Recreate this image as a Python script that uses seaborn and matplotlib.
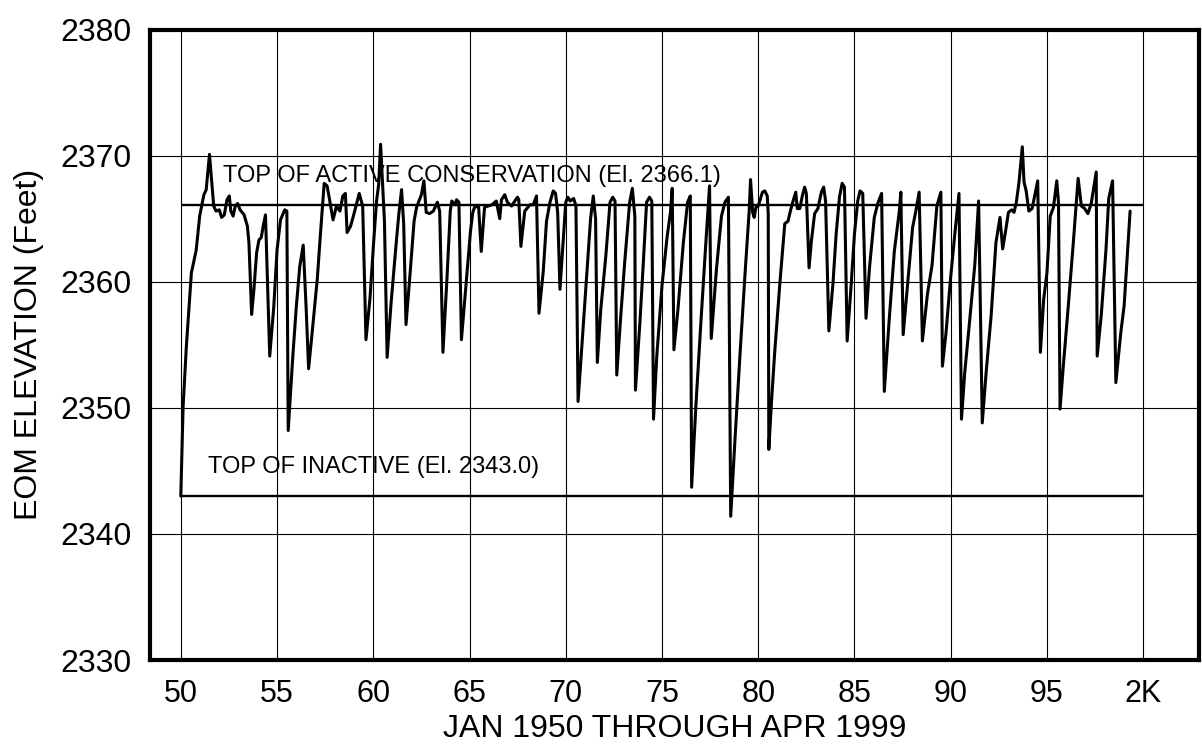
import matplotlib
matplotlib.use("Agg")
import matplotlib.pyplot as plt
import seaborn as sns
import pandas as pd

# end-of-month elevation, vertices (year of 19xx, feet)
years = [
    50.00, 50.12, 50.29, 50.55, 50.80, 50.98, 51.20, 51.32, 51.49, 51.71,
    51.83, 52.00, 52.12, 52.26, 52.40, 52.52, 52.60, 52.72, 52.83, 52.95,
    53.08, 53.29, 53.46, 53.54, 53.68, 53.80, 53.94, 54.06, 54.18, 54.28,
    54.40, 54.62, 54.83, 55.00, 55.18, 55.40, 55.51, 55.58, 55.82, 56.00,
    56.18, 56.36, 56.51, 56.64, 56.82, 57.09, 57.27, 57.45, 57.60, 57.73,
    57.85, 57.91, 58.09, 58.27, 58.42, 58.55, 58.64, 58.82, 59.00, 59.27,
    59.45, 59.62, 59.83, 60.00, 60.17, 60.28, 60.38, 60.50, 60.58, 60.72,
    60.92, 61.17, 61.33, 61.47, 61.58, 61.70, 61.92, 62.12, 62.25, 62.50,
    62.63, 62.75, 62.92, 63.12, 63.33, 63.45, 63.62, 63.83, 64.00, 64.08,
    64.25, 64.33, 64.45, 64.58, 64.83, 65.05, 65.17, 65.26, 65.47, 65.61,
    65.78, 65.96, 66.17, 66.39, 66.57, 66.66, 66.83, 66.97, 67.18, 67.49,
    67.56, 67.67, 67.87, 68.14, 68.31, 68.48, 68.61, 68.83, 69.00, 69.18,
    69.35, 69.47, 69.58, 69.70, 69.88, 70.00, 70.11, 70.23, 70.41, 70.53,
    70.64, 70.85, 71.06, 71.29, 71.43, 71.55, 71.64, 71.82, 72.08, 72.30,
    72.44, 72.56, 72.65, 72.83, 73.06, 73.32, 73.46, 73.59, 73.62, 73.85,
    74.03, 74.20, 74.35, 74.47, 74.56, 74.73, 75.00, 75.27, 75.44, 75.53,
    75.62, 75.83, 76.11, 76.33, 76.47, 76.54, 76.77, 77.03, 77.30, 77.47,
    77.56, 77.83, 78.09, 78.27, 78.45, 78.57, 78.80, 79.06, 79.33, 79.53,
    79.60, 79.71, 79.79, 79.88, 80.00, 80.12, 80.22, 80.34, 80.47, 80.52,
    80.55, 80.69, 80.86, 81.12, 81.38, 81.55, 81.67, 81.81, 81.95, 82.03,
    82.16, 82.29, 82.41, 82.50, 82.64, 82.76, 82.93, 83.10, 83.28, 83.40,
    83.50, 83.67, 83.88, 84.05, 84.22, 84.36, 84.48, 84.62, 84.83, 85.00,
    85.17, 85.29, 85.43, 85.60, 85.78, 86.03, 86.21, 86.41, 86.55, 86.81,
    87.07, 87.33, 87.41, 87.53, 87.76, 88.02, 88.19, 88.36, 88.53, 88.79,
    89.03, 89.28, 89.49, 89.57, 89.76, 89.97, 90.22, 90.43, 90.56, 90.73,
    90.99, 91.25, 91.45, 91.64, 91.84, 92.10, 92.35, 92.56, 92.70, 92.87,
    93.00, 93.17, 93.29, 93.41, 93.55, 93.72, 93.81, 93.92, 94.06, 94.23,
    94.40, 94.52, 94.66, 94.83, 95.00, 95.17, 95.34, 95.51, 95.60, 95.68,
    95.85, 96.11, 96.37, 96.62, 96.79, 96.96, 97.13, 97.30, 97.56, 97.61,
    97.82, 98.07, 98.21, 98.41, 98.58, 98.84, 99.01, 99.32,
]
elevation = [
    2343.0, 2350.1, 2354.9, 2360.7, 2362.5, 2365.2, 2366.9, 2367.3, 2370.1, 2366.0,
    2365.6, 2365.7, 2365.1, 2365.3, 2366.5, 2366.8, 2365.6, 2365.2, 2366.0, 2366.2,
    2365.7, 2365.3, 2364.4, 2363.1, 2357.4, 2359.4, 2362.3, 2363.3, 2363.5, 2364.4,
    2365.3, 2354.1, 2358.0, 2362.5, 2364.9, 2365.7, 2365.6, 2348.2, 2354.1, 2358.0,
    2361.2, 2362.9, 2358.0, 2353.1, 2355.9, 2360.2, 2364.1, 2367.8, 2367.6, 2366.5,
    2365.4, 2364.9, 2366.0, 2365.6, 2366.8, 2367.0, 2363.9, 2364.4, 2365.4, 2367.0,
    2366.0, 2355.4, 2358.7, 2362.7, 2366.4, 2367.7, 2370.9, 2367.2, 2364.8, 2354.0,
    2358.2, 2362.7, 2365.4, 2367.3, 2364.6, 2356.6, 2360.8, 2364.8, 2365.9, 2366.9,
    2368.0, 2365.5, 2365.4, 2365.6, 2366.3, 2365.6, 2354.4, 2360.3, 2365.6, 2366.4,
    2366.1, 2366.5, 2366.3, 2355.4, 2360.0, 2364.0, 2365.5, 2365.9, 2366.0, 2362.4,
    2365.9, 2366.0, 2366.1, 2366.4, 2365.0, 2366.5, 2366.9, 2366.3, 2366.0, 2366.7,
    2366.5, 2362.8, 2365.6, 2366.1, 2366.1, 2366.8, 2357.5, 2360.8, 2364.8, 2366.3,
    2367.2, 2367.0, 2365.5, 2359.4, 2363.6, 2366.3, 2366.7, 2366.4, 2366.6, 2366.0,
    2350.5, 2355.2, 2359.9, 2365.0, 2366.8, 2365.0, 2353.6, 2357.8, 2362.0, 2366.3,
    2366.7, 2366.4, 2352.6, 2356.7, 2361.5, 2366.3, 2367.4, 2365.2, 2351.4, 2356.7,
    2361.5, 2366.3, 2366.7, 2366.4, 2349.1, 2354.1, 2359.7, 2363.6, 2365.5, 2367.4,
    2354.6, 2357.8, 2363.1, 2366.3, 2366.8, 2343.7, 2350.4, 2357.0, 2363.6, 2367.6,
    2355.5, 2361.0, 2365.2, 2366.3, 2366.7, 2341.4, 2347.7, 2354.4, 2361.0, 2365.6,
    2368.1, 2365.5, 2365.1, 2365.9, 2366.0, 2366.6, 2367.1, 2367.2, 2366.8, 2365.4,
    2346.7, 2350.5, 2354.5, 2359.8, 2364.6, 2364.8, 2365.6, 2366.4, 2367.1, 2365.8,
    2365.8, 2366.8, 2367.5, 2367.0, 2361.1, 2363.2, 2365.4, 2365.8, 2367.1, 2367.5,
    2366.4, 2356.1, 2359.8, 2363.8, 2366.7, 2367.8, 2367.5, 2355.3, 2359.8, 2363.8,
    2366.4, 2367.2, 2367.0, 2357.1, 2361.1, 2365.1, 2366.2, 2367.0, 2351.3, 2357.1,
    2362.4, 2365.6, 2367.1, 2355.8, 2359.8, 2364.3, 2365.6, 2367.1, 2355.3, 2359.0,
    2361.3, 2366.0, 2367.1, 2353.3, 2356.0, 2359.9, 2363.9, 2367.0, 2349.1, 2352.8,
    2357.0, 2361.3, 2366.4, 2348.8, 2352.8, 2357.3, 2363.1, 2365.1, 2362.6, 2364.2,
    2365.5, 2365.7, 2365.5, 2366.3, 2367.9, 2370.7, 2367.9, 2367.2, 2365.6, 2365.8,
    2367.1, 2368.0, 2354.4, 2358.6, 2360.7, 2365.2, 2365.9, 2368.0, 2366.3, 2349.9,
    2353.3, 2358.1, 2363.1, 2368.2, 2366.0, 2365.8, 2365.4, 2366.2, 2368.7, 2354.1,
    2357.3, 2362.6, 2366.6, 2368.0, 2352.0, 2356.0, 2358.1, 2365.6,
]

active_top = 2366.1
inactive_top = 2343.0
ref_start, ref_end = 50, 100

x_ticks = [50, 55, 60, 65, 70, 75, 80, 85, 90, 95, 100]
x_tick_labels = ["50", "55", "60", "65", "70", "75", "80", "85", "90", "95", "2K"]
y_ticks = [2330, 2340, 2350, 2360, 2370, 2380]

df = pd.DataFrame({"year": years, "elev": elevation})

sns.set_theme(style="whitegrid")
plt.rcParams['font.family'] = ['Liberation Sans', 'DejaVu Sans']
plt.rcParams['text.color'] = 'black'

fig = plt.figure(figsize=(12.02, 7.5), dpi=100)
ax = fig.add_axes([150 / 1202, 90 / 750, 1049 / 1202, 630.5 / 750])

sns.lineplot(data=df, x="year", y="elev", color="black", lw=2.2, ax=ax, sort=False)
ax.hlines([active_top, inactive_top], ref_start, ref_end, color="black", lw=1.7)

ax.text(52.2, 2368.4, "TOP OF ACTIVE CONSERVATION (El. 2366.1)", fontsize=17,
        va="center", color="black")
ax.text(51.4, 2345.3, "TOP OF INACTIVE (El. 2343.0)", fontsize=17,
        va="center", color="black")

ax.set_xlim(48.4, 102.9)
ax.set_ylim(2330, 2380)
ax.set_xticks(x_ticks)
ax.set_xticklabels(x_tick_labels)
ax.set_yticks(y_ticks)
ax.grid(True, color="black", lw=0.8)
ax.set_axisbelow(True)
for s in ax.spines.values():
    s.set_visible(True)
    s.set_color("black")
    s.set_linewidth(3)
ax.tick_params(axis="both", length=0, colors="black")
ax.tick_params(axis="x", labelsize=22, pad=14)
ax.tick_params(axis="y", labelsize=23, pad=13)

ax.set_xlabel("JAN 1950 THROUGH APR 1999", fontsize=23, labelpad=3, color="black")
ax.set_ylabel("EOM ELEVATION (Feet)", fontsize=23, labelpad=12, color="black")

plt.savefig("out.png", dpi=100)
